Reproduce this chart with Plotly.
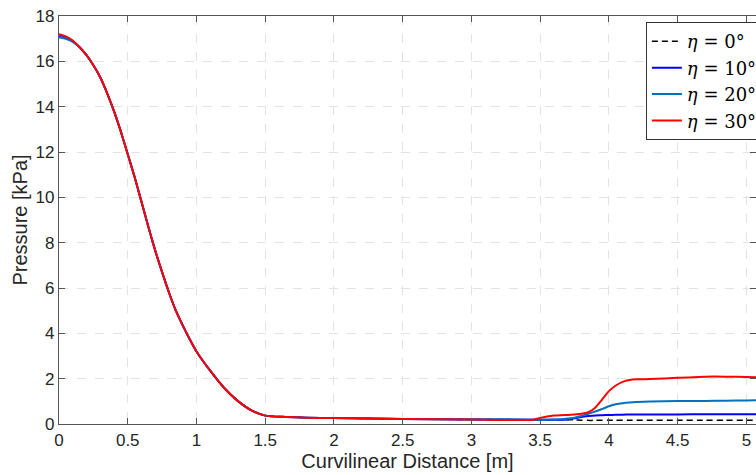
import plotly.graph_objects as go

# Curvilinear distance [m]
x = [0, 0.05, 0.1, 0.15, 0.2, 0.25, 0.3, 0.35, 0.4, 0.45, 0.5, 0.55, 0.6, 0.65, 0.7, 0.75,
     0.8, 0.85, 0.9, 0.95, 1.0, 1.1, 1.2, 1.3, 1.4, 1.5, 1.65, 1.8, 2.0, 2.5, 3.0, 3.45,
     3.5, 3.55, 3.6, 3.65, 3.7, 3.75, 3.8, 3.85, 3.9, 3.95, 4.0, 4.05, 4.1, 4.15,
     4.2, 4.3, 4.5, 4.7, 4.85, 5.0, 5.13]

# shared part of the pressure curve (0.15 <= x <= 3.45) [kPa]
common = [16.62, 16.27, 15.83, 15.3, 14.6, 13.8, 12.9, 11.9, 10.9, 9.8, 8.7, 7.65, 6.7,
          5.8, 5.0, 4.35, 3.75, 3.2, 2.35, 1.6, 1.02, 0.6, 0.37, 0.31, 0.28, 0.26, 0.22, 0.2, 0.19]

# Pressure [kPa]
p_eta0 = [17.18, 17.08, 16.9] + common + [
    0.19, 0.19, 0.19, 0.19, 0.19, 0.18, 0.17, 0.16, 0.16, 0.16, 0.16, 0.16, 0.16, 0.16,
    0.16, 0.16, 0.16, 0.16, 0.16, 0.16, 0.16]
p_eta10 = [17.08, 17.02, 16.88] + common + [
    0.19, 0.19, 0.19, 0.19, 0.2, 0.25, 0.31, 0.35, 0.38, 0.39, 0.4, 0.41, 0.41, 0.42,
    0.42, 0.42, 0.42, 0.43, 0.43, 0.43, 0.43]
p_eta20 = [17.05, 17.0, 16.86] + common + [
    0.19, 0.19, 0.2, 0.21, 0.24, 0.28, 0.35, 0.45, 0.55, 0.66, 0.78, 0.87, 0.92, 0.95,
    0.97, 0.99, 1.01, 1.02, 1.03, 1.04, 1.05]
p_eta30 = [17.2, 17.1, 16.92] + common + [
    0.27, 0.33, 0.37, 0.39, 0.4, 0.42, 0.45, 0.52, 0.72, 1.08, 1.45, 1.7, 1.86, 1.94,
    1.97, 1.98, 2.04, 2.09, 2.09, 2.07, 2.06]

labels = ["<i>η</i> = 0°", "<i>η</i> = 10°", "<i>η</i> = 20°", "<i>η</i> = 30°"]
series = [p_eta0, p_eta10, p_eta20, p_eta30]
colors = ["#000000", "#0000FF", "#0072BD", "#FF0000"]
dashes = ["6px,4px", "solid", "solid", "solid"]
widths = [1.5, 2, 2, 2]

fig = go.Figure()
for lab, ys, c, d, w in zip(labels, series, colors, dashes, widths):
    fig.add_trace(go.Scatter(x=x, y=ys, mode="lines", name=lab,
                             line=dict(color=c, dash=d, width=w, shape="spline", smoothing=0.6)))

axis_common = dict(
    showline=True, linecolor="#555555", linewidth=1.2, mirror="ticks",
    ticks="inside", ticklen=6, tickcolor="#555555", tickwidth=1,
    showgrid=True, gridcolor="#e3e3e3", griddash="dash", gridwidth=1,
    zeroline=False,
    tickfont=dict(family="Liberation Sans, Arial, sans-serif", size=17, color="#262626"),
    title_font=dict(family="Liberation Sans, Arial, sans-serif", size=20, color="#262626"),
)

fig.update_xaxes(range=[0, 5.07], dtick=0.5, tick0=0,
                 title_text="Curvilinear Distance [m]", title_standoff=0, **axis_common)
fig.update_yaxes(range=[0, 18], dtick=2, tick0=0,
                 title_text="Pressure [kPa]", title_standoff=2, **axis_common)

fig.update_layout(
    width=756, height=475,
    margin=dict(l=59, r=0, t=16, b=51, autoexpand=False),
    plot_bgcolor="white", paper_bgcolor="white",
    legend=dict(x=0.842, y=0.985, xanchor="left", yanchor="top",
                bgcolor="white", bordercolor="#333333", borderwidth=1,
                font=dict(family="DejaVu Serif, Liberation Serif, serif", size=18, color="#000000"),
                itemwidth=30, tracegroupgap=0),
    showlegend=True,
)

fig.write_html("out.html", config={"displayModeBar": False},
               post_script="document.body.style.margin='0';document.body.style.overflow='hidden';")
